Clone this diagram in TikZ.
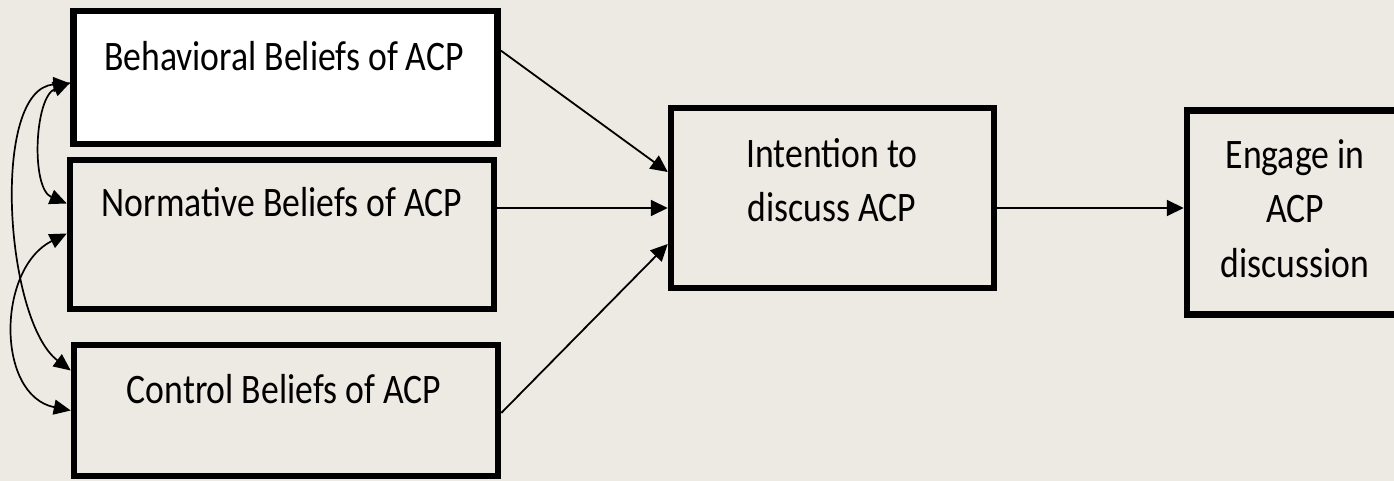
\documentclass[tikz,border=0pt]{standalone}
\usepackage{fontspec}
\setmainfont{Carlito}[FakeStretch=0.85]
\usetikzlibrary{arrows.meta}
\definecolor{paper}{RGB}{237,234,227}

\tikzset{
    box/.style={draw=black, line width=6.5pt, inner sep=0pt},
    txt/.style={font=\fontsize{42}{54.5}\selectfont, inner sep=0pt, align=center},
    conn/.style={line width=1.8pt, -{Triangle[length=17pt,width=16pt]}},
    twoway/.style={line width=1.7pt, {Triangle[length=17pt,width=15pt]}-{Triangle[length=17pt,width=15pt]}}
}

\begin{document}
\begin{tikzpicture}[x=1pt, y=-1pt]

\fill[paper] (0,0) rectangle (1394,481);
\useasboundingbox (0,0) rectangle (1394,481);
\clip (0,0) rectangle (1394,481);

% belief boxes
\node[box, fill=white, minimum width=424pt, minimum height=133pt] (beh) at (285.5,77.5) {};
\node[box, fill=paper, minimum width=424pt, minimum height=149pt] (nor) at (282,234.5) {};
\node[box, fill=paper, minimum width=424pt, minimum height=131pt] (con) at (286,410.5) {};

% intention and behaviour
\node[box, fill=paper, minimum width=323pt, minimum height=180pt] (int) at (832.5,198) {};
\node[box, fill=paper, minimum width=220pt, minimum height=204pt] (eng) at (1297,212.5) {};

% texts
\node[txt, anchor=base] (behtxt) at (284,71) {Behavioral Beliefs of ACP};
\node[txt, anchor=base] (nortxt) at (282,216) {Normative Beliefs of ACP};
\node[txt, anchor=base] (contxt) at (284,403) {Control Beliefs of ACP};
\node[txt, anchor=base] (inttxt) at (832,222) {Intention to\\discuss ACP};
\node[txt, anchor=base] (engtxt) at (1295,277) {Engage in\\ACP\\discussion};

% paths to intention
\draw[conn] ([yshift=27pt]beh.east) -- ([yshift=26pt]int.west);
\draw[conn] ([yshift=26.5pt]nor.east) -- ([yshift=-10pt]int.west);
\draw[conn] ([yshift=-2.5pt]con.east) -- ([yshift=-46pt]int.west);
\draw[conn] ([yshift=-10pt]int.east) -- ([yshift=4.5pt]eng.west);

% correlations between beliefs
\draw[twoway] ([yshift=-5pt]beh.west) .. controls +(-36,15) and +(-36,-15) .. ([yshift=31pt]nor.west);
\draw[twoway] ([yshift=-6pt]beh.west) .. controls +(-80,5) and +(-66,-50) .. ([yshift=40pt]con.west);
\draw[twoway] ([yshift=1pt]nor.west) .. controls +(-70,35) and +(-75,-15) .. ([yshift=0pt]con.west);

\end{tikzpicture}
\end{document}
